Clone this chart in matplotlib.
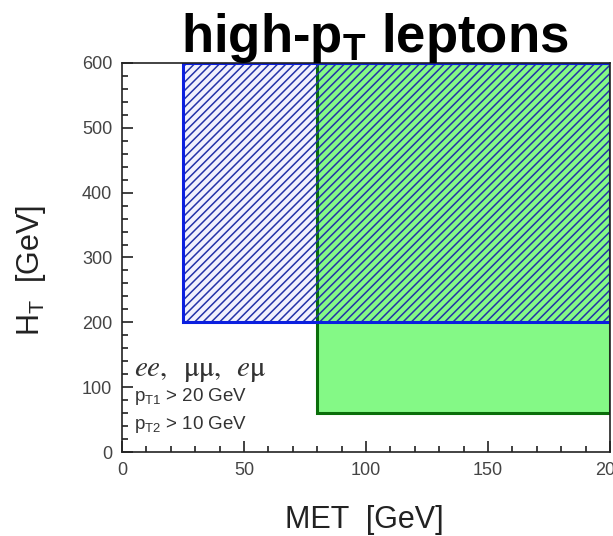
import matplotlib
matplotlib.use("Agg")
import matplotlib.pyplot as plt
from matplotlib.patches import Rectangle
from matplotlib.ticker import MultipleLocator

plt.rcParams['font.family'] = ['Liberation Sans', 'DejaVu Sans']
plt.rcParams['mathtext.fontset'] = 'custom'
plt.rcParams['mathtext.rm'] = 'Liberation Sans'
plt.rcParams['mathtext.it'] = 'Liberation Sans:italic'
plt.rcParams['mathtext.bf'] = 'Liberation Sans:bold'
plt.rcParams['hatch.linewidth'] = 1.1

# signal regions: (MET cut, HT cut), both open to the top right
region_names = ["hatched", "green"]
met_cut = [25, 80]     # GeV
ht_cut = [200, 60]     # GeV
met_max = 200
ht_max = 600

selection = [r"$\mathit{ee},\;\;\mathrm{\mu\mu},\;\;\mathit{e}\mathrm{\mu}$",
             r"p$_{\mathrm{T1}}$ > 20 GeV",
             r"p$_{\mathrm{T2}}$ > 10 GeV"]

fig = plt.figure(figsize=(6.13, 5.36), dpi=100)
ax = fig.add_axes([0.199, 0.1567, 0.796, 0.7258])

ax.set_xlim(0, met_max)
ax.set_ylim(0, ht_max)

# light background under the hatched region
ax.add_patch(Rectangle((met_cut[0], ht_cut[0]), met_max - met_cut[0], ht_max - ht_cut[0],
                       facecolor='#f1f1fd', edgecolor='none', zorder=1))
# green region
ax.add_patch(Rectangle((met_cut[1], ht_cut[1]), met_max - met_cut[1], ht_max - ht_cut[1],
                       facecolor='#84f986', edgecolor='#0a6e0a', linewidth=2.2, zorder=2))
# hatching + blue outline
ax.add_patch(Rectangle((met_cut[0], ht_cut[0]), met_max - met_cut[0], ht_max - ht_cut[0],
                       fill=False, hatch='////', edgecolor='#2433a8', linewidth=0, zorder=3))
ax.add_patch(Rectangle((met_cut[0], ht_cut[0]), met_max - met_cut[0], ht_max - ht_cut[0],
                       fill=False, edgecolor='#0b1fe0', linewidth=2.2, zorder=4))

ax.xaxis.set_major_locator(MultipleLocator(50))
ax.xaxis.set_minor_locator(MultipleLocator(10))
ax.yaxis.set_major_locator(MultipleLocator(100))
ax.yaxis.set_minor_locator(MultipleLocator(20))
ax.tick_params(which='both', direction='in', top=False, right=False,
               colors='#333333', labelcolor='#444444', width=1.3)
ax.tick_params(which='major', length=8, labelsize=13, pad=7)
ax.tick_params(which='minor', length=4)
for s in ax.spines.values():
    s.set_linewidth(1.2)
    s.set_color('#222222')
    s.set_zorder(5)

ax.text(5, 126, selection[0], fontsize=21, color='#333333', va='center', ha='left',
        math_fontfamily='stix')
ax.text(5, 86, selection[1], fontsize=13.5, color='#333333', va='center', ha='left')
ax.text(5, 42, selection[2], fontsize=13.5, color='#333333', va='center', ha='left')

fig.text(0.612, 0.903, r"high-p$_\mathbf{T}$ leptons", fontsize=38, fontweight='bold',
         ha='center', va='baseline', color='black')
fig.text(0.595, 0.03, "MET  [GeV]", fontsize=22, ha='center', va='center', color='#222222')
fig.text(0.05, 0.496, r"H$_\mathrm{T}$  [GeV]", fontsize=22, ha='center', va='center',
         rotation=90, color='#222222')

fig.savefig("out.png", dpi=100)
